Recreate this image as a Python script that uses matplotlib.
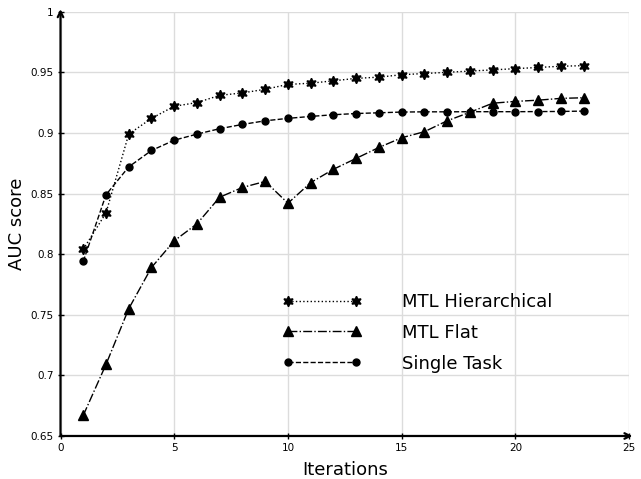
import matplotlib
matplotlib.use("Agg")
import matplotlib.pyplot as plt
import numpy as np

iterations = list(range(1, 24))

mtl_hier = [0.804, 0.834, 0.899, 0.912, 0.922, 0.925, 0.931, 0.933, 0.936, 0.940,
            0.941, 0.943, 0.945, 0.946, 0.948, 0.949, 0.950, 0.951, 0.952, 0.953,
            0.954, 0.955, 0.9555]
mtl_flat = [0.667, 0.709, 0.755, 0.789, 0.811, 0.825, 0.847, 0.855, 0.860, 0.842,
            0.859, 0.870, 0.879, 0.888, 0.896, 0.901, 0.910, 0.917, 0.9245, 0.926,
            0.927, 0.9285, 0.929]
single = [0.794, 0.849, 0.872, 0.8855, 0.894, 0.899, 0.9035, 0.907, 0.910, 0.912,
          0.9136, 0.915, 0.916, 0.9166, 0.9172, 0.9174, 0.9174, 0.9175, 0.9175, 0.9175,
          0.9176, 0.9177, 0.918]

xticks = [0, 5, 10, 15, 20, 25]
yticks = [0.65, 0.7, 0.75, 0.8, 0.85, 0.9, 0.95, 1]
ytick_labels = ["0.65", "0.7", "0.75", "0.8", "0.85", "0.9", "0.95", "1"]


def main():
    fig = plt.figure(figsize=(6.41, 4.79), dpi=100)
    ax = fig.add_axes([0.0944, 0.0898, 0.887, 0.8858])

    ax.plot(iterations, mtl_hier, color="black", linestyle=":", lw=1,
            marker=(6, 1, 0), markersize=7.5, label="MTL Hierarchical")
    ax.plot(iterations, mtl_flat, color="black", linestyle="-.", lw=1,
            marker="^", markersize=6.5, label="MTL Flat")
    ax.plot(iterations, single, color="black", linestyle="--", lw=1,
            marker="o", markersize=5, label="Single Task")

    ax.set_xlim(0, 25)
    ax.set_ylim(0.65, 1)
    ax.set_xticks(xticks)
    ax.set_yticks(yticks)
    ax.set_yticklabels(ytick_labels)
    ax.tick_params(direction="inout", length=4, width=1, labelsize=7.5, pad=3)
    ax.grid(True, color="#dcdcdc", lw=1)
    ax.set_axisbelow(True)

    # axes drawn as arrows instead of spines
    for s in ax.spines.values():
        s.set_visible(False)
    ax.annotate("", xy=(1.006, 0), xytext=(0, 0), xycoords="axes fraction",
                arrowprops=dict(arrowstyle="->", lw=1.6, color="black",
                                shrinkA=0, shrinkB=0))
    ax.annotate("", xy=(0, 1.006), xytext=(0, 0), xycoords="axes fraction",
                arrowprops=dict(arrowstyle="->", lw=1.6, color="black",
                                shrinkA=0, shrinkB=0))

    ax.set_xlabel("Iterations", fontsize=13, labelpad=6)
    ax.set_ylabel("AUC score", fontsize=13, labelpad=3)

    ax.legend(loc="upper left", bbox_to_anchor=(0.3907, 0.337), frameon=False,
              fontsize=13, numpoints=2, handlelength=4.37, handletextpad=2.22,
              labelspacing=0.71, borderpad=0, borderaxespad=0)

    fig.savefig("out.png", dpi=100)


if __name__ == "__main__":
    main()
